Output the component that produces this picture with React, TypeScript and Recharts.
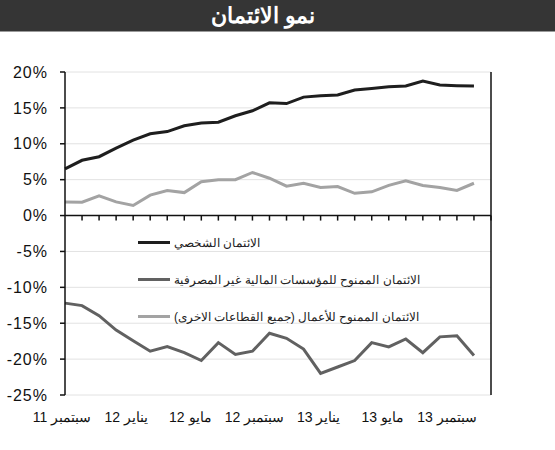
import React from "react";
import {
  LineChart,
  Line,
  XAxis,
  YAxis,
  CartesianGrid,
  ReferenceLine,
} from "recharts";

// monthly, Sep 2011 .. Sep 2013
const months = [
  "سبتمبر 11", "أكتوبر 11", "نوفمبر 11", "ديسمبر 11",
  "يناير 12", "فبراير 12", "مارس 12", "أبريل 12",
  "مايو 12", "يونيو 12", "يوليو 12", "أغسطس 12",
  "سبتمبر 12", "أكتوبر 12", "نوفمبر 12", "ديسمبر 12",
  "يناير 13", "فبراير 13", "مارس 13", "أبريل 13",
  "مايو 13", "يونيو 13", "يوليو 13", "أغسطس 13",
  "سبتمبر 13",
];

const personal = [
  6.5, 7.7, 8.2, 9.4, 10.5, 11.4, 11.7, 12.5, 12.9, 13.0, 13.9, 14.6, 15.7,
  15.6, 16.5, 16.7, 16.8, 17.5, 17.7, 17.95, 18.05, 18.75, 18.2, 18.1, 18.05,
];
const nonBank = [
  -12.2, -12.55, -13.95, -15.95, -17.45, -18.9, -18.25, -19.1, -20.2, -17.7,
  -19.35, -18.9, -16.4, -17.1, -18.6, -22.0, -21.1, -20.2, -17.7, -18.3,
  -17.2, -19.1, -16.9, -16.75, -19.5,
];
const business = [
  1.9, 1.85, 2.75, 1.9, 1.4, 2.85, 3.5, 3.2, 4.7, 5.0, 5.0, 6.0, 5.2, 4.1, 4.5,
  3.9, 4.05, 3.1, 3.3, 4.2, 4.85, 4.2, 3.9, 3.5, 4.5,
];

const yTicks = [-25, -20, -15, -10, -5, 0, 5, 10, 15, 20];
const xTicks = [0, 4, 8, 12, 16, 20, 24];

const seriesNames = [
  "الائتمان الشخصي",
  "الائتمان الممنوح للمؤسسات المالية غير المصرفية",
  "الائتمان الممنوح للأعمال (جميع القطاعات الاخرى)",
];
const seriesColors = ["#1e1e1e", "#616161", "#a3a3a3"];

const data = months.map((m, i) => ({
  idx: i,
  personal: personal[i],
  nonBank: nonBank[i],
  business: business[i],
}));

const FONT = "'Liberation Sans', Arial, sans-serif";

const MonthTick = (props: any) => {
  const { x, y, payload, index } = props;
  return (
    <text
      x={x - 3 - index * 4}
      y={y + 25}
      textAnchor="middle"
      direction="rtl"
      fontSize={14}
      fill="#111"
      fontFamily={FONT}
    >
      {months[payload.value]}
    </text>
  );
};

const LegendBox = () => (
  <div
    style={{
      position: "absolute",
      left: 138,
      top: 224,
      fontFamily: FONT,
      fontSize: 12,
      color: "#222",
    }}
  >
    {seriesNames.map((name, i) => (
      <div
        key={name}
        style={{ display: "flex", alignItems: "center", height: 37 }}
      >
        <div
          style={{
            width: 32,
            height: 3,
            background: seriesColors[i],
            marginRight: 4,
          }}
        />
        <span dir="rtl">{name}</span>
      </div>
    ))}
  </div>
);

export default function App() {
  const tickStyle = { fontSize: 16, fill: "#111", fontFamily: FONT, letterSpacing: 1 };
  return (
    <div
      style={{
        position: "absolute",
        left: 0,
        top: 0,
        width: 555,
        height: 450,
        background: "#fff",
      }}
    >
      <div
        style={{
          height: 31,
          background: "#353535",
          borderBottom: "1px solid #9a9a9a",
          color: "#fff",
          fontFamily: FONT,
          fontWeight: "bold",
          fontSize: 22,
          lineHeight: "31px",
          textAlign: "center",
          paddingRight: 29,
        }}
        dir="rtl"
      >
        نمو الائتمان
      </div>
      <LineChart
        width={555}
        height={418}
        data={data}
        margin={{ top: 40, right: 0, bottom: 0, left: 0 }}
      >
        <CartesianGrid
          vertical={false}
          yAxisId="left"
          stroke="#e2e2e2"
          strokeWidth={1}
        />
        <XAxis
          dataKey="idx"
          type="number"
          domain={[0, 25]}
          ticks={xTicks}
          interval={0}
          axisLine={false}
          tickLine={false}
          tickSize={0}
          height={55}
          tick={<MonthTick />}
        />
        <YAxis
          yAxisId="left"
          domain={[-25, 20]}
          ticks={yTicks}
          interval={0}
          width={65}
          tickFormatter={(v) => `${v}%`}
          axisLine={{ stroke: "#111", strokeWidth: 1.5 }}
          tickLine={{ stroke: "#111", strokeWidth: 1.5 }}
          tickSize={5}
          tickMargin={12}
          tick={tickStyle}
        />
        <YAxis
          yAxisId="right"
          orientation="right"
          domain={[-25, 20]}
          ticks={yTicks}
          interval={0}
          width={64}
          tickFormatter={(v) => `${v}%`}
          axisLine={{ stroke: "#111", strokeWidth: 1.5 }}
          tickLine={{ stroke: "#111", strokeWidth: 1.5 }}
          tickSize={5}
          tickMargin={10}
          tick={tickStyle}
        />
        <ReferenceLine yAxisId="left" y={0} stroke="#111" strokeWidth={1.5} />
        {months.map((_, i) => (
          <ReferenceLine
            key={"t" + i}
            yAxisId="left"
            segment={[
              { x: i + 1, y: 0 },
              { x: i + 1, y: -0.7 },
            ]}
            stroke="#111"
            strokeWidth={1.5}
          />
        ))}
        <Line
          yAxisId="left"
          dataKey="personal"
          name={seriesNames[0]}
          stroke={seriesColors[0]}
          strokeWidth={3}
          dot={false}
          isAnimationActive={false}
        />
        <Line
          yAxisId="left"
          dataKey="nonBank"
          name={seriesNames[1]}
          stroke={seriesColors[1]}
          strokeWidth={3}
          dot={false}
          isAnimationActive={false}
        />
        <Line
          yAxisId="left"
          dataKey="business"
          name={seriesNames[2]}
          stroke={seriesColors[2]}
          strokeWidth={3}
          dot={false}
          isAnimationActive={false}
        />
      </LineChart>
      <LegendBox />
    </div>
  );
}
